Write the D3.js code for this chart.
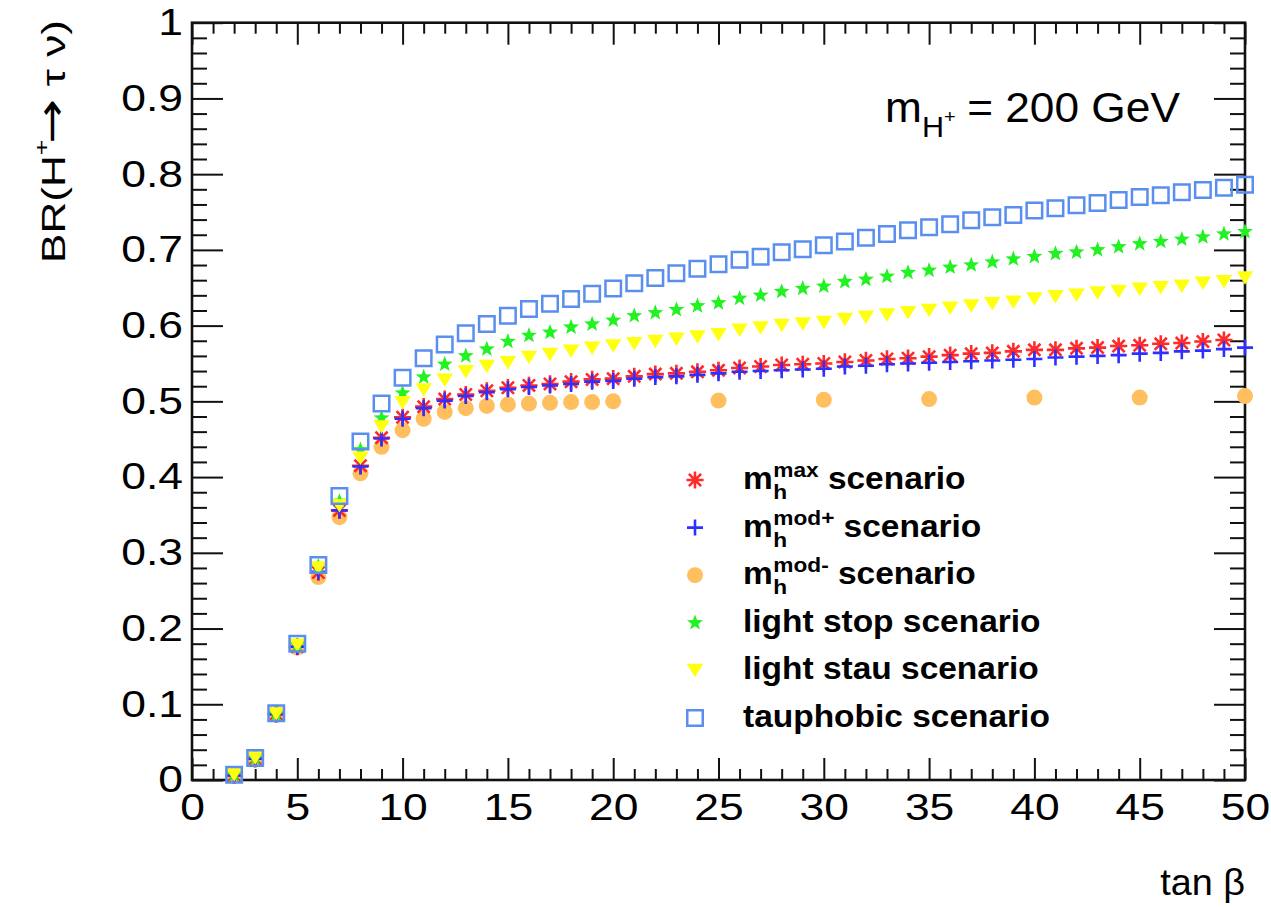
<!DOCTYPE html>
<html>
<head>
<meta charset="utf-8">
<script src="https://cdn.jsdelivr.net/npm/d3@7"></script>
<style>
  body { margin: 0; background: #fff; }
  svg { display: block; }
</style>
</head>
<body>
<svg id="chart" width="1271" height="908"></svg>
<script>
// ---- data: BR(H+ -> tau nu) versus tan(beta), m_H+ = 200 GeV ----
const tanBeta = [2, 3, 4, 5, 6, 7, 8, 9, 10, 11, 12, 13, 14, 15, 16, 17, 18, 19, 20,
  21, 22, 23, 24, 25, 26, 27, 28, 29, 30, 31, 32, 33, 34, 35, 36, 37, 38, 39, 40,
  41, 42, 43, 44, 45, 46, 47, 48, 49, 50];

const brMhmax = [0.006, 0.028, 0.087, 0.176, 0.274, 0.356, 0.415, 0.452, 0.479, 0.493,
  0.503, 0.509, 0.514, 0.518, 0.521, 0.523, 0.526, 0.529, 0.530, 0.533, 0.536, 0.537,
  0.539, 0.541, 0.544, 0.546, 0.548, 0.549, 0.550, 0.552, 0.554, 0.556, 0.557, 0.559,
  0.561, 0.563, 0.564, 0.566, 0.568, 0.568, 0.570, 0.571, 0.573, 0.574, 0.576, 0.577,
  0.579, 0.581];   // tan(beta) = 2 ... 49

const brMhmodPlus = [0.006, 0.028, 0.087, 0.176, 0.275, 0.356, 0.414, 0.451, 0.477, 0.491,
  0.501, 0.507, 0.512, 0.516, 0.519, 0.521, 0.523, 0.526, 0.527, 0.530, 0.532, 0.533,
  0.535, 0.537, 0.539, 0.540, 0.541, 0.542, 0.543, 0.546, 0.547, 0.549, 0.550, 0.551,
  0.552, 0.553, 0.554, 0.555, 0.556, 0.558, 0.559, 0.560, 0.561, 0.563, 0.564, 0.566,
  0.567, 0.569, 0.571];

const tanBetaModMinus = [2, 3, 4, 5, 6, 7, 8, 9, 10, 11, 12, 13, 14, 15, 16, 17, 18, 19, 20,
  25, 30, 35, 40, 45, 50];
const brMhmodMinus = [0.006, 0.027, 0.086, 0.175, 0.268, 0.347, 0.405, 0.440, 0.462, 0.477,
  0.486, 0.491, 0.494, 0.496, 0.497, 0.498, 0.499, 0.499, 0.500,
  0.501, 0.502, 0.503, 0.505, 0.505, 0.507];

const brLightStop = [0.007, 0.029, 0.087, 0.178, 0.282, 0.368, 0.436, 0.478, 0.511, 0.532,
  0.549, 0.560, 0.569, 0.579, 0.587, 0.591, 0.598, 0.602, 0.607, 0.613, 0.617, 0.621,
  0.626, 0.630, 0.636, 0.640, 0.645, 0.649, 0.652, 0.658, 0.661, 0.665, 0.670, 0.673,
  0.677, 0.680, 0.684, 0.688, 0.691, 0.695, 0.697, 0.700, 0.704, 0.708, 0.711, 0.714,
  0.717, 0.721, 0.724];

const brLightStau = [0.007, 0.029, 0.087, 0.178, 0.280, 0.362, 0.425, 0.466, 0.498, 0.515,
  0.528, 0.539, 0.546, 0.551, 0.558, 0.562, 0.566, 0.570, 0.573, 0.576, 0.579, 0.582,
  0.585, 0.588, 0.594, 0.597, 0.600, 0.602, 0.604, 0.608, 0.611, 0.614, 0.617, 0.620,
  0.623, 0.626, 0.629, 0.631, 0.635, 0.638, 0.640, 0.643, 0.645, 0.648, 0.650, 0.652,
  0.656, 0.658, 0.663];

const brTauphobic = [0.007, 0.029, 0.088, 0.180, 0.284, 0.375, 0.447, 0.497, 0.531, 0.557,
  0.575, 0.590, 0.602, 0.613, 0.622, 0.629, 0.635, 0.642, 0.649, 0.656, 0.663, 0.669,
  0.675, 0.681, 0.687, 0.691, 0.697, 0.701, 0.706, 0.711, 0.716, 0.721, 0.726, 0.730,
  0.734, 0.739, 0.743, 0.746, 0.752, 0.755, 0.759, 0.762, 0.766, 0.770, 0.772, 0.776,
  0.779, 0.782, 0.786];

const xTicks = [0, 5, 10, 15, 20, 25, 30, 35, 40, 45, 50];
const yTicks = [0, 0.1, 0.2, 0.3, 0.4, 0.5, 0.6, 0.7, 0.8, 0.9, 1];

const legendLabels = [
  { sup: "max",  text: "scenario" },
  { sup: "mod+", text: "scenario" },
  { sup: "mod-", text: "scenario" },
  { sup: null,   text: "light stop scenario" },
  { sup: null,   text: "light stau scenario" },
  { sup: null,   text: "tauphobic scenario" }
];

// ---- layout ----
const FONT = "'Liberation Sans', Arial, Helvetica, sans-serif";
const svg = d3.select("#chart");
const frame = { left: 192, right: 1245, top: 22.7, bottom: 780 };

const x = d3.scaleLinear().domain([0, 50]).range([frame.left, frame.right]);
const y = d3.scaleLinear().domain([0, 1]).range([frame.bottom, frame.top]);

// ---- marker shapes ----
function asteriskPath(r) {
  const a = r * Math.SQRT1_2;
  return `M${-r},0H${r}M0,${-r}V${r}M${-a},${-a}L${a},${a}M${-a},${a}L${a},${-a}`;
}
function plusPath(r) { return `M${-r},0H${r}M0,${-r}V${r}`; }
function starPath(R, r) {
  const p = d3.path();
  for (let i = 0; i < 10; i++) {
    const rad = i % 2 ? r : R;
    const ang = -Math.PI / 2 + i * Math.PI / 5;
    const px = rad * Math.cos(ang), py = rad * Math.sin(ang);
    if (i === 0) p.moveTo(px, py); else p.lineTo(px, py);
  }
  p.closePath();
  return p.toString();
}
function triDownPath(w, h) { return `M${-w / 2},${-h / 2}L${w / 2},${-h / 2}L0,${h / 2}Z`; }
function squarePath(s) { return `M${-s / 2},${-s / 2}h${s}v${s}h${-s}Z`; }
function circlePath(r) { return `M${r},0A${r},${r} 0 1,1 ${-r},0A${r},${r} 0 1,1 ${r},0Z`; }

const styles = {
  modMinus:  { d: circlePath(8),         fill: "#ffbf5f", stroke: "none",    sw: 0 },
  mhmax:     { d: asteriskPath(8.6),     fill: "none",    stroke: "#ff2a2a", sw: 2.6 },
  modPlus:   { d: plusPath(8),           fill: "none",    stroke: "#2f2fff", sw: 2.6 },
  lightStop: { d: starPath(8.4, 3.5),    fill: "#22f222", stroke: "none",    sw: 0 },
  lightStau: { d: triDownPath(16.5, 13.5), fill: "#ffff10", stroke: "none",  sw: 0 },
  tauphobic: { d: squarePath(15.5),      fill: "none",    stroke: "#5a8ff0", sw: 2.5 }
};

const series = [
  { key: "modMinus",  xs: tanBetaModMinus,     ys: brMhmodMinus },
  { key: "mhmax",     xs: tanBeta.slice(0, brMhmax.length), ys: brMhmax },
  { key: "modPlus",   xs: tanBeta,             ys: brMhmodPlus },
  { key: "lightStop", xs: tanBeta,             ys: brLightStop },
  { key: "lightStau", xs: tanBeta,             ys: brLightStau },
  { key: "tauphobic", xs: tanBeta,             ys: brTauphobic }
];

// ---- axes (ticks point inward, mirrored on top/right) ----
function styleAxis(g) {
  g.select(".domain").remove();
  g.selectAll(".tick line").attr("stroke", "#111").attr("stroke-width", 2);
  g.attr("font-family", FONT).attr("font-size", 37);
  g.selectAll("text").attr("fill", "#000");
}

const xMinor = d3.range(0, 51, 1).filter(v => v % 5 !== 0);
const yMinor = d3.range(0, 1.0001, 0.02).filter(v => Math.abs(v * 10 - Math.round(v * 10)) > 1e-6);

// bottom
svg.append("g").attr("transform", `translate(0,${frame.bottom})`)
  .call(d3.axisBottom(x).tickValues(xMinor).tickSize(-11).tickFormat(""))
  .call(styleAxis);
svg.append("g").attr("transform", `translate(0,${frame.bottom})`)
  .call(d3.axisBottom(x).tickValues(xTicks).tickSize(-22).tickPadding(14).tickFormat(d3.format("d")))
  .call(styleAxis)
  .call(g => g.selectAll("text").attr("transform", "scale(1.2,1)"));
// top
svg.append("g").attr("transform", `translate(0,${frame.top})`)
  .call(d3.axisTop(x).tickValues(xMinor).tickSize(-11).tickFormat(""))
  .call(styleAxis);
svg.append("g").attr("transform", `translate(0,${frame.top})`)
  .call(d3.axisTop(x).tickValues(xTicks).tickSize(-22).tickFormat(""))
  .call(styleAxis);
// left
svg.append("g").attr("transform", `translate(${frame.left},0)`)
  .call(d3.axisLeft(y).tickValues(yMinor).tickSize(-15).tickFormat(""))
  .call(styleAxis);
svg.append("g").attr("transform", `translate(${frame.left},0)`)
  .call(d3.axisLeft(y).tickValues(yTicks).tickSize(-31).tickPadding(7.5)
    .tickFormat(d => d === 0 ? "0" : d === 1 ? "1" : d3.format(".1f")(d)))
  .call(styleAxis)
  .call(g => g.selectAll("text").attr("transform", "scale(1.2,1)"));
// right
svg.append("g").attr("transform", `translate(${frame.right},0)`)
  .call(d3.axisRight(y).tickValues(yMinor).tickSize(-15).tickFormat(""))
  .call(styleAxis);
svg.append("g").attr("transform", `translate(${frame.right},0)`)
  .call(d3.axisRight(y).tickValues(yTicks).tickSize(-31).tickFormat(""))
  .call(styleAxis);

// frame
svg.append("rect")
  .attr("x", frame.left).attr("y", frame.top)
  .attr("width", frame.right - frame.left).attr("height", frame.bottom - frame.top)
  .attr("fill", "none").attr("stroke", "#111").attr("stroke-width", 2.6);

// ---- markers ----
const marks = svg.append("g");
series.forEach(s => {
  const st = styles[s.key];
  marks.append("g").selectAll("path")
    .data(s.xs.map((xv, i) => [xv, s.ys[i]]))
    .join("path")
    .attr("transform", d => `translate(${x(d[0])},${y(d[1])})`)
    .attr("d", st.d)
    .attr("fill", st.fill)
    .attr("stroke", st.stroke)
    .attr("stroke-width", st.sw);
});

// ---- text helpers ----
// Lays a text group out at natural size, then stretches it horizontally to a target width.
function fitGroup(g, tx, ty, targetW, rotate) {
  const bb = g.node().getBBox();
  const sx = targetW / bb.width;
  g.attr("transform",
    `translate(${tx},${ty})` + (rotate ? ` rotate(${rotate})` : "") +
    ` scale(${sx},1) translate(${-bb.x},0)`);
}

// ---- legend ----
const legX = 695, legTextX = 743, legY0 = 480, legDy = 47.6;
const legendKeys = ["mhmax", "modPlus", "modMinus", "lightStop", "lightStau", "tauphobic"];
legendLabels.forEach((lab, i) => {
  const cy = legY0 + i * legDy;
  const st = styles[legendKeys[i]];
  svg.append("path")
    .attr("transform", `translate(${legX},${cy})`)
    .attr("d", st.d).attr("fill", st.fill).attr("stroke", st.stroke).attr("stroke-width", st.sw);

  const g = svg.append("g")
    .attr("font-family", FONT).attr("font-weight", "bold").attr("fill", "#000");
  if (lab.sup) {
    const m = g.append("text").attr("font-size", 31).text("m");
    const mw = m.node().getComputedTextLength();
    const sup = g.append("text").attr("x", mw + 0.5).attr("y", -12).attr("font-size", 21).text(lab.sup);
    g.append("text").attr("x", mw + 0.5).attr("y", 10).attr("font-size", 21).text("h");
    const sw = sup.node().getComputedTextLength();
    g.append("text").attr("x", mw + sw + 9).attr("font-size", 31).text(lab.text);
  } else {
    g.append("text").attr("font-size", 31).text(lab.text);
  }
  const bb = g.node().getBBox();
  g.attr("transform", `translate(${legTextX},${cy + 9}) scale(1.08,1) translate(${-bb.x},0)`);
});

// ---- mass label: m_{H+} = 200 GeV ----
{
  const g = svg.append("g").attr("font-family", FONT).attr("fill", "#000");
  const m = g.append("text").attr("font-size", 42).text("m");
  const mw = m.node().getComputedTextLength();
  const h = g.append("text").attr("x", mw).attr("y", 15).attr("font-size", 29).text("H");
  const hw = h.node().getComputedTextLength();
  g.append("text").attr("x", mw + hw).attr("y", 1).attr("font-size", 19).text("+");
  g.append("text").attr("x", mw + hw + 22).attr("font-size", 42).text("= 200 GeV");
  fitGroup(g, 885, 122, 295);
}

// ---- axis titles ----
{
  const g = svg.append("g").attr("font-family", FONT).attr("fill", "#000");
  g.append("text").attr("font-size", 36).text("tan β");
  const bb = g.node().getBBox();
  g.attr("transform", `translate(${1245 - bb.width * 1.05},895) scale(1.05,1) translate(${-bb.x},0)`);
}
{
  const g = svg.append("g").attr("font-family", FONT).attr("fill", "#000");
  const t = g.append("text").attr("font-size", 33);
  t.append("tspan").text("BR(H");
  t.append("tspan").attr("font-size", 20).attr("dy", -16).text("+");
  t.append("tspan").attr("dy", 16).attr("font-family", "'DejaVu Sans'").attr("font-size", 40)
    .attr("dx", -3).text("\u2192");
  t.append("tspan").text(" τ ν)");
  fitGroup(g, 65, 263, 243, -90);
}
</script>
</body>
</html>
